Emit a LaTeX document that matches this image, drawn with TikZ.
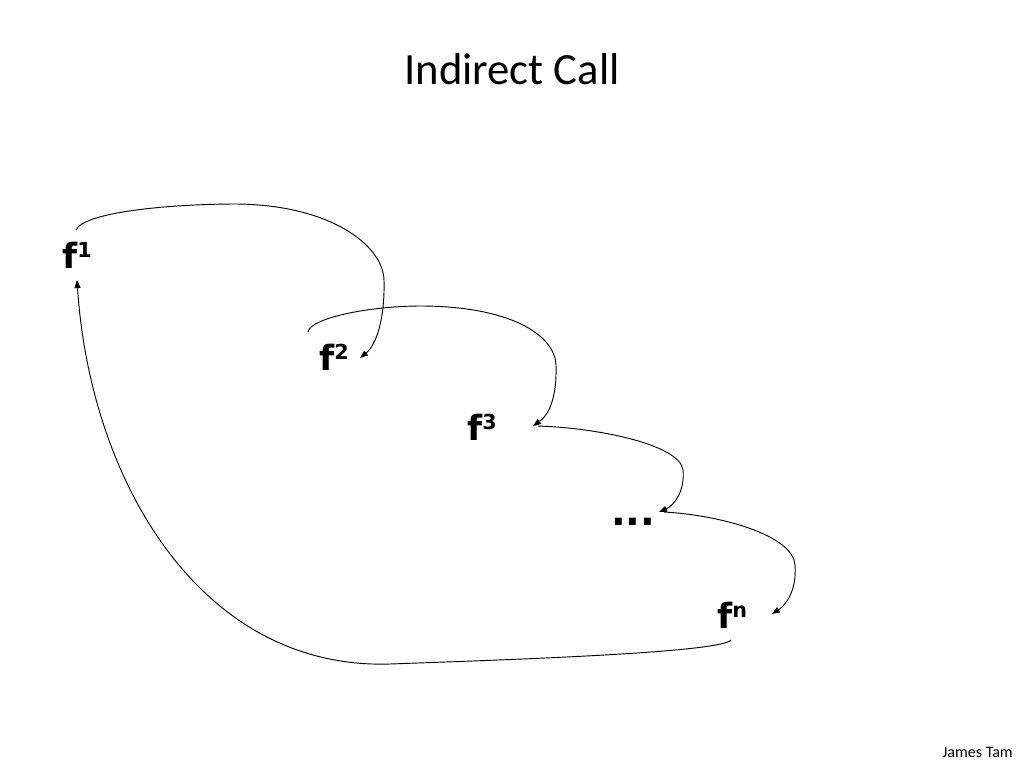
\documentclass[tikz,border=0pt]{standalone}
\usepackage{fontspec}
\setmainfont{Carlito}
\newfontfamily\labelfont{DejaVu Sans}[BoldFont={DejaVu Sans Bold}]
\usetikzlibrary{arrows.meta}
\newcommand\supx[1]{\raisebox{7.8pt}{\fontsize{15.5pt}{16pt}\selectfont #1}}
\begin{document}
\begin{tikzpicture}[x=0.75pt,y=-0.75pt,
  fn/.style={inner sep=0pt,anchor=base west,font=\labelfont\bfseries\fontsize{26pt}{28pt}\selectfont},
  callarc/.style={line width=0.7pt,-{Triangle[length=6pt,width=4.5pt]}},
  retarc/.style={line width=0.7pt}]
\path[use as bounding box] (0,0) rectangle (1024,768);
\node[inner sep=0pt,anchor=base,font=\fontsize{33.5pt}{36pt}\selectfont] (title) at (512,84) {Indirect Call};
\node[inner sep=0pt,anchor=base east,font=\fontsize{12pt}{14pt}\selectfont] (author) at (1013,757) {James Tam};
\node[fn] (f1) at (62,268) {f\supx{1}};
\node[fn] (f2) at (319,370) {f\supx{2}};
\node[fn] (f3) at (467,440) {f\supx{3}};
\node[fn,font=\labelfont\bfseries\fontsize{29pt}{31pt}\selectfont] (dots) at (611,525) {...};
\node[fn] (fn) at (717,628) {f\supx{n}};
% connector end points
\coordinate (s1) at (76,230);
\coordinate (e1) at (360,358);
\coordinate (s2) at (308,332);
\coordinate (e2) at (533,426);
\coordinate (s3) at (538,426);
\coordinate (e3) at (659,512);
\coordinate (s4) at (664,512);
\coordinate (e4) at (772,614);
\coordinate (s5) at (731,640);
\coordinate (e5) at (77,280);
\draw[callarc] (s1) .. controls (84,212) and (170,204) .. (237,204)
  .. controls (330,205) and (383,245) .. (384,280)
  .. controls (385,320) and (376,345) .. (e1);
\draw[callarc] (s2) .. controls (310,318) and (370,306) .. (420,306)
  .. controls (510,306) and (555,335) .. (556,365)
  .. controls (557,395) and (550,414) .. (e2);
\draw[callarc] (s3) .. controls (600,428) and (680,445) .. (683,470)
  .. controls (685,490) and (675,505) .. (e3);
\draw[callarc] (s4) .. controls (720,515) and (793,535) .. (795,565)
  .. controls (797,590) and (786,605) .. (e4);
\draw[retarc,-{Triangle[length=6pt,width=4.5pt]}] (s5) .. controls (720,653) and (500,660) .. (390,664)
  .. controls (200,670) and (90,480) .. (e5);
\end{tikzpicture}
\end{document}
